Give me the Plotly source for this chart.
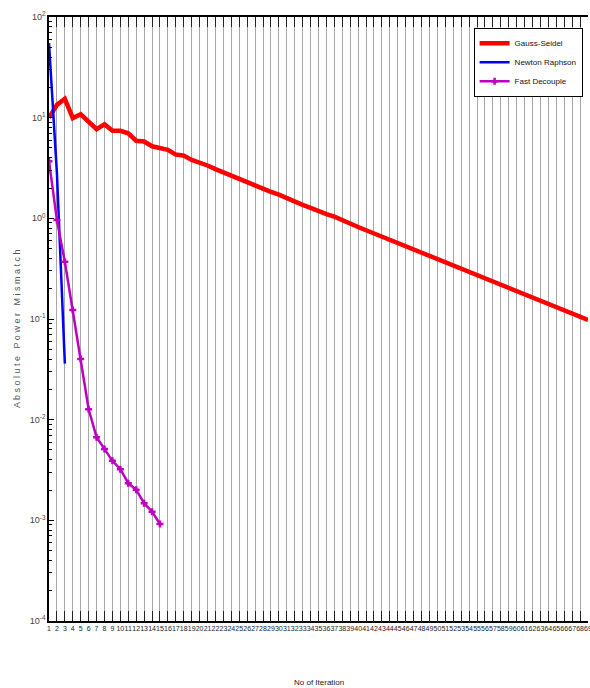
import plotly.graph_objects as go

# ---------------- data ----------------
iterations = list(range(1, 70))
x_tick_labels = [str(i) for i in iterations]

gauss_seidel = [
    10.0, 13.4, 15.4, 9.9, 10.8, 9.1, 7.7, 8.6, 7.4, 7.4,
    7.0, 5.9, 5.8, 5.2, 5.0, 4.8, 4.3, 4.2, 3.8, 3.6,
    3.35, 3.08, 2.85, 2.66, 2.46, 2.28, 2.12, 1.96, 1.83, 1.72,
    1.58, 1.47, 1.36, 1.27, 1.17, 1.10, 1.04, 0.955, 0.885, 0.82,
    0.762, 0.708, 0.657, 0.611, 0.568, 0.532, 0.502, 0.462, 0.428, 0.396,
    0.367, 0.341, 0.318, 0.296, 0.275, 0.255, 0.237, 0.220, 0.203, 0.189,
    0.179, 0.165, 0.153, 0.142, 0.132, 0.123, 0.114, 0.106, 0.098,
]
newton_raphson = [55.0, 2.8, 0.036]
fast_decouple = [3.7, 0.96, 0.37, 0.123, 0.040, 0.0127, 0.0067, 0.0051,
                 0.0039, 0.00322, 0.00234, 0.00201, 0.00148, 0.00122, 0.00092]

y_tick_vals = [1e-4, 1e-3, 1e-2, 1e-1, 1e0, 1e1, 1e2]
y_tick_text = ["10<sup>-4</sup>", "10<sup>-3</sup>", "10<sup>-2</sup>", "10<sup>-1</sup>",
               "10<sup>0</sup>", "10<sup>1</sup>", "10<sup>2</sup>"]

# ---------------- figure ----------------
FONT = "Liberation Sans, Arial, sans-serif"

minor_vals = [m * 10.0 ** e for e in range(-4, 2) for m in range(2, 10)]

fig = go.Figure()
fig.add_trace(go.Scatter(
    x=iterations[:len(gauss_seidel)], y=gauss_seidel, name="Gauss-Seidel",
    mode="lines", line=dict(color="#ff0000", width=4.5)))
fig.add_trace(go.Scatter(
    x=iterations[:len(newton_raphson)], y=newton_raphson, name="Newton Raphson",
    mode="lines", line=dict(color="#0000ff", width=2.5)))
fig.add_trace(go.Scatter(
    x=iterations[:len(fast_decouple)], y=fast_decouple, name="Fast Decouple",
    mode="lines+markers", line=dict(color="#c000c0", width=2.5),
    marker=dict(symbol="cross-thin", size=5, color="#c000c0",
                line=dict(color="#c000c0", width=2.5))))

fig.update_layout(
    width=590, height=688,
    margin=dict(l=49, r=2, t=17, b=67),
    paper_bgcolor="white", plot_bgcolor="white",
    font=dict(family=FONT, size=10, color="#222222"),
    showlegend=True,
    legend=dict(x=0.99, xanchor="right", y=0.982, yanchor="top",
                bgcolor="white", bordercolor="black", borderwidth=1,
                font=dict(family=FONT, size=8, color="#111111"),
                itemwidth=30, tracegroupgap=3),
    xaxis=dict(
        range=[1, 69], tickmode="array", tickvals=iterations, ticktext=x_tick_labels,
        tickangle=0, showgrid=True, gridcolor="#a8a8a8", gridwidth=1,
        ticks="inside", ticklen=10, tickcolor="#222222", tickwidth=1,
        showline=True, linecolor="black", linewidth=2, mirror="ticks",
        ticklabeloverflow="allow", automargin=False,
        zeroline=False, tickfont=dict(family=FONT, size=7, color="#222222"),
    ),
    yaxis=dict(
        type="log", range=[-4, 2], tickmode="array",
        tickvals=y_tick_vals, ticktext=y_tick_text, automargin=False,
        showgrid=False, ticks="inside", ticklen=5, tickcolor="black", tickwidth=1,
        showline=True, linecolor="black", linewidth=1.5, zeroline=False,
        tickfont=dict(family=FONT, size=9, color="#444444"),
        minor=dict(tickmode="array", tickvals=minor_vals, ticks="inside",
                   ticklen=3, tickcolor="black", tickwidth=1, showgrid=False),
    ),
    annotations=[
        dict(text="No of Iteration", xref="paper", yref="paper", x=0.5, y=0,
             xanchor="center", yanchor="top", yshift=-55, showarrow=False,
             font=dict(family=FONT, size=8, color="#222222")),
        dict(text="A b s o l u t e   P o w e r   M i s m a t c h", xref="paper", yref="paper",
             x=0, y=0.5, xanchor="center", yanchor="middle", xshift=-32, yshift=-10,
             textangle=-90, showarrow=False,
             font=dict(family=FONT, size=9, color="#555555")),
    ],
)

fig.write_html("out.html")
